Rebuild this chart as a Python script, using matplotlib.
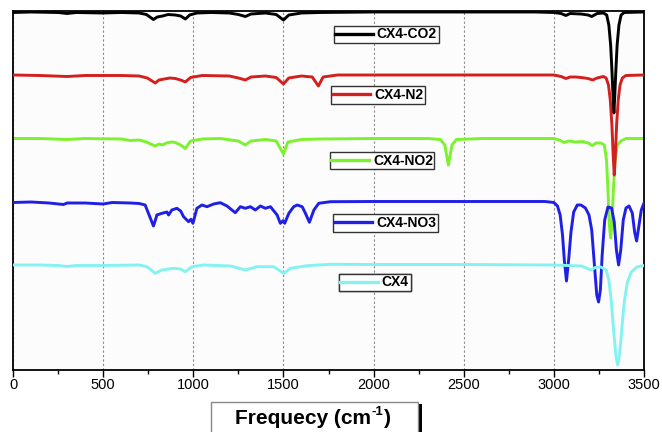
import matplotlib
matplotlib.use("Agg")
import matplotlib.pyplot as plt
from matplotlib.lines import Line2D
from matplotlib.patches import Rectangle

plt.rcParams['font.family'] = ['Liberation Sans', 'DejaVu Sans']

# ---------------- data (wavenumber cm-1, offset transmittance a.u.; larger = lower on plot) ----
x_co2 = [0, 100, 250, 300, 350, 500, 600, 700, 740, 779, 800, 830, 860, 900, 930, 956, 980, 1020,
         1100, 1200, 1250, 1289, 1320, 1400, 1460, 1500, 1530, 1600, 1700, 2000, 2500, 2900, 3000,
         3040, 3067, 3090, 3150, 3190, 3210, 3240, 3275, 3293, 3305, 3315, 3322, 3328, 3333, 3338,
         3344, 3351, 3361, 3373, 3390, 3500]
y_co2 = [12.5, 12, 12.5, 13.5, 12.5, 13, 12.5, 13, 14.5, 19.5, 17, 16, 14.5, 15, 16, 19, 15, 13,
         12.5, 13, 14.5, 16.5, 14, 13, 14.5, 20, 15, 13, 12.5, 12, 12, 12, 12.5,
         13.5, 15.5, 13.5, 14, 15, 16.5, 13.5, 13, 15, 25, 45, 70, 95, 113, 95,
         70, 45, 25, 15, 12.5, 12]

x_n2 = [0, 150, 300, 400, 600, 700, 745, 789, 810, 840, 870, 900, 930, 956, 985, 1050, 1200, 1250,
        1289, 1320, 1400, 1460, 1500, 1530, 1600, 1660, 1694, 1720, 1800, 2500, 3000, 3040, 3067,
        3090, 3120, 3150, 3190, 3215, 3240, 3275, 3290, 3303, 3313, 3322, 3329, 3335, 3341, 3348,
        3357, 3367, 3380, 3400, 3500]
y_n2 = [75, 75.5, 76.5, 75.5, 75.5, 76, 78, 83, 80, 79, 78, 78.5, 80, 82, 77.5, 75.5, 76, 78,
        80, 77, 76, 77.5, 84, 78, 76, 77, 86, 77, 75, 75, 75, 76.5, 78.5,
        77, 77, 77.5, 78.5, 80, 78, 76.5, 78, 85, 100, 125, 155, 175, 155, 125,
        100, 85, 78, 75.5, 75]

x_no2 = [0, 150, 300, 400, 600, 650, 700, 740, 770, 789, 810, 830, 850, 880, 900, 930, 956, 985,
         1050, 1150, 1250, 1289, 1320, 1400, 1460, 1500, 1525, 1600, 1700, 2000, 2300, 2370, 2395,
         2408, 2415, 2422, 2435, 2460, 2600, 3000, 3030, 3057, 3080, 3120, 3160, 3190, 3213, 3235,
         3260, 3280, 3292, 3300, 3308, 3315, 3322, 3330, 3340, 3352, 3372, 3400, 3500]
y_no2 = [138.5, 138.5, 139.5, 138.5, 139, 140.5, 140, 142, 144.5, 146, 144, 145, 143, 142, 142.5,
         145, 148.5, 141, 139, 138.5, 141, 145, 141, 139.5, 141, 154, 142, 139.5, 139, 138.5,
         138.5, 139.5, 145, 158, 165, 158, 145, 139.5, 138.5, 138.5, 140, 142.5, 141, 142, 141.5,
         143, 145.5, 143, 143, 145, 160, 190, 225, 238, 225, 190, 160, 145, 141, 138.5, 138.5]

x_no3 = [0, 100, 200, 280, 300, 400, 500, 550, 650, 700, 733, 755, 779, 790, 798, 826, 854, 863,
         881, 909, 930, 946, 974, 987, 998, 1020, 1048, 1076, 1113, 1150, 1187, 1233, 1261, 1289,
         1317, 1344, 1372, 1400, 1428, 1465, 1483, 1498, 1507, 1530, 1557, 1576, 1604, 1622, 1644,
         1669, 1696, 1761, 2000, 2500, 2950, 3000, 3020, 3035, 3048, 3058, 3070, 3082, 3095, 3110,
         3130, 3150, 3175, 3195, 3210, 3225, 3238, 3248, 3258, 3268, 3282, 3300, 3320, 3335, 3347,
         3359, 3371, 3385, 3400, 3417, 3435, 3448, 3459, 3470, 3485, 3500]
y_no3 = [202.5, 202, 203, 204.5, 203, 203, 204, 202.5, 203, 203.5, 205, 215, 226, 220, 215, 213.3,
         212, 215, 210, 208.3, 211, 216.7, 221.7, 219.3, 223.3, 208.3, 205, 206.7, 204, 202.7, 206,
         212.7, 206.7, 208.3, 206.7, 210, 206, 208.3, 206.7, 215, 223.3, 220.7, 223.3, 213.3, 206.7,
         205, 206.7, 213.3, 222.3, 210, 203.3, 201.7, 201.5, 201.5, 201.5, 202.5, 206, 215, 235,
         260, 281, 260, 232, 212, 205, 205, 208, 215, 230, 265, 295, 302, 290, 255, 220, 207, 208,
         222, 250, 265, 250, 220, 208, 206, 213, 232, 241, 228, 210, 203]

x_cx4 = [0, 150, 250, 300, 350, 500, 700, 743, 789, 826, 891, 928, 956, 993, 1057, 1206, 1289,
         1354, 1446, 1502, 1539, 1631, 1761, 2000, 2500, 3000, 3150, 3180, 3205, 3230, 3260, 3290,
         3305, 3318, 3326, 3336, 3346, 3354, 3362, 3372, 3382, 3392, 3408, 3430, 3460, 3500]
y_cx4 = [265, 265, 265.5, 266.5, 265.5, 265.5, 265, 266.7, 273.3, 270, 268.3, 269, 271.7, 266.7,
         265, 266, 270, 266.7, 266.7, 273.3, 268.3, 265.7, 264.3, 264.5, 264.5, 265, 266, 268, 270,
         267.5, 267, 270, 280, 300, 318, 340, 358, 365, 358, 340, 318, 300, 282, 272, 267, 265.5]

labels = ['CX4-CO2', 'CX4-N2', 'CX4-NO2', 'CX4-NO3', 'CX4']
colors = ['#000000', '#d41f1f', '#7cf22e', '#1f1fe6', '#85f2f2']
x_ticks = [0, 500, 1000, 1500, 2000, 2500, 3000, 3500]
x_label_parts = ['Frequecy (cm', '-1', ')']

# ---------------- figure ----------------
W, H = 662, 432
fig = plt.figure(figsize=(W / 100, H / 100), dpi=100)
L, R, T, B = 13, 644, 11, 370
ax = fig.add_axes([L / W, 1 - B / H, (R - L) / W, (B - T) / H])
ax.set_facecolor('#fcfcfc')

series = [(x_co2, y_co2), (x_n2, y_n2), (x_no2, y_no2), (x_no3, y_no3), (x_cx4, y_cx4)]
lines = []
for (xs, ys), c, lab in zip(series, colors, labels):
    ln, = ax.plot(xs, ys, color=c, lw=2.1, label=lab, solid_joinstyle='round', zorder=3)
    lines.append(ln)
lines[2].set_zorder(2.5)

ax.set_xlim(0, 3500)
ax.set_ylim(370, 11)
ax.set_xticks(x_ticks)
ax.set_xticks(range(250, 3500, 500), minor=True)
ax.tick_params(axis='x', which='major', direction='out', length=5, width=1, labelsize=10.5, pad=1)
ax.tick_params(axis='x', which='minor', direction='out', length=3, width=1)
ax.set_yticks([])
ax.grid(axis='x', which='major', linestyle=(0, (2, 2)), color='#888888', linewidth=0.8, zorder=0)
for s in ax.spines.values():
    s.set_linewidth(1.3)

# ---------------- legends ----------------
leg_pos = [(386, 34.5), (378, 95), (382, 160.5), (385.5, 223), (374.5, 282.5)]
for ln, (px, py) in zip(lines, leg_pos):
    leg = ax.legend(handles=[Line2D([], [], color=ln.get_color(), lw=2.4)], labels=[ln.get_label()],
                    loc='center', bbox_to_anchor=((px - L) / (R - L), (B - py) / (B - T)),
                    frameon=True, fancybox=False, edgecolor='#333333', framealpha=1,
                    handlelength=2.7, handletextpad=0.3, borderpad=0.12, borderaxespad=0,
                    prop={'weight': 'bold', 'size': 10})
    leg.get_frame().set_linewidth(1.0)
    ax.add_artist(leg)

# ---------------- x label box ----------------
fig.patches.append(Rectangle((418 / W, 0), 4 / W, (H - 404) / H, transform=fig.transFigure,
                             facecolor='black', edgecolor='none'))
fig.patches.append(Rectangle((211 / W, -0.02), 207 / W, (H - 402) / H + 0.02, transform=fig.transFigure,
                             facecolor='white', edgecolor='#888888', linewidth=1))

renderer = fig.canvas.get_renderer()
fs_main, fs_sup = 15, 9.5
t1 = fig.text(0, 1 - 419 / H, x_label_parts[0], ha='left', va='center', fontsize=fs_main, fontweight='bold')
t2 = fig.text(0, 1 - 412 / H, x_label_parts[1], ha='left', va='center', fontsize=fs_sup, fontweight='bold')
t3 = fig.text(0, 1 - 419 / H, x_label_parts[2], ha='left', va='center', fontsize=fs_main, fontweight='bold')
w1 = t1.get_window_extent(renderer).width
w2 = t2.get_window_extent(renderer).width
w3 = t3.get_window_extent(renderer).width
total = w1 + w2 + w3 + 1
x0 = 313 - total / 2
t1.set_x(x0 / W)
t2.set_x((x0 + w1 + 0.5) / W)
t3.set_x((x0 + w1 + w2 + 1) / W)

fig.savefig('out.png', dpi=100)
